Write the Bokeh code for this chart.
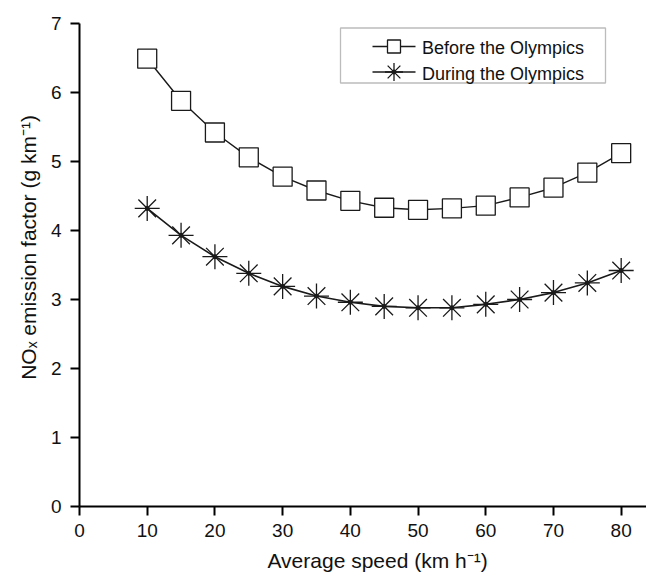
from bokeh.plotting import figure
from bokeh.models import Range1d, FixedTicker, Label, BoxAnnotation
from bokeh.embed import file_html
from bokeh.resources import INLINE

# ---------------- data ----------------
speed = [10, 15, 20, 25, 30, 35, 40, 45, 50, 55, 60, 65, 70, 75, 80]
before = [6.49, 5.88, 5.42, 5.06, 4.78, 4.58, 4.43, 4.33, 4.30, 4.32, 4.36, 4.48, 4.62, 4.84, 5.12]
during = [4.32, 3.93, 3.62, 3.38, 3.19, 3.05, 2.96, 2.90, 2.88, 2.88, 2.93, 3.00, 3.10, 3.24, 3.42]
series_names = ["Before the Olympics", "During the Olympics"]
x_ticks = [0, 10, 20, 30, 40, 50, 60, 70, 80]
y_ticks = [0, 1, 2, 3, 4, 5, 6, 7]
x_title = "Average speed (km h\u207b\u00b9)"
y_title = "NO\u2093 emission factor (g km\u207b\u00b9)"

FONT = "Liberation Sans"
NBSP = "\u00a0"

# ---------------- geometry ----------------
W_FIG, H_FIG = 646, 579
MB_L, MB_R, MB_T, MB_B = 79, 0, 23, 73
FRAME_W = W_FIG - MB_L - MB_R
FRAME_H = H_FIG - MB_T - MB_B
X_END = FRAME_W / 6.771
XS = FRAME_W / X_END
YS = FRAME_H / 7.0

def dx(px):
    return (px - MB_L) / XS

def dy(py):
    return (MB_T + FRAME_H - py) / YS

p = figure(width=W_FIG, height=H_FIG, x_range=Range1d(0, X_END), y_range=Range1d(0, 7),
           output_backend="svg", toolbar_location=None,
           min_border_left=MB_L, min_border_right=MB_R, min_border_top=MB_T, min_border_bottom=MB_B)
p.outline_line_color = None
p.grid.visible = False
p.background_fill_color = "white"
p.border_fill_color = "white"

p.xaxis.ticker = FixedTicker(ticks=x_ticks)
p.yaxis.ticker = FixedTicker(ticks=y_ticks)
for ax in (p.xaxis, p.yaxis):
    ax.axis_line_width = 2
    ax.axis_line_color = "black"
    ax.major_tick_line_width = 2
    ax.major_tick_line_color = "black"
    ax.major_tick_out = 9
    ax.major_tick_in = 0
    ax.minor_tick_line_color = None
    ax.major_label_text_font = FONT
    ax.major_label_text_font_size = "19px"
    ax.major_label_text_color = "#111111"
    ax.axis_label_text_font = FONT
    ax.axis_label_text_font_size = "21px"
    ax.axis_label_text_font_style = "normal"
    ax.axis_label_text_color = "#111111"
p.xaxis.major_label_standoff = 8
p.yaxis.major_label_standoff = 9
# leading no-break spaces shift the centred titles to where the reference has them
p.xaxis.axis_label = NBSP * 5 + x_title
p.yaxis.axis_label = NBSP * 6 + y_title
p.xaxis.axis_label_standoff = 9
p.yaxis.axis_label_standoff = 8

# ---------------- series ----------------
LC = "#1a1a1a"
p.line(speed, before, line_color=LC, line_width=1.4)
p.scatter(speed, before, marker="square", size=19, fill_color="white", line_color=LC, line_width=1.3)
p.line(speed, during, line_color=LC, line_width=1.6)
p.scatter(speed, during, marker="asterisk", size=25, line_color=LC, line_width=1.3)
p.scatter(speed, during, marker="circle", size=4, fill_color=LC, line_color=LC)

# ---------------- legend ----------------
box = BoxAnnotation(left=dx(340), right=dx(605), top=dy(27.5), bottom=dy(82.5),
                    fill_color=None, line_color="#222222", line_width=1.3)
p.add_layout(box)
rows = [46.0, 71.5]
for i, name in enumerate(series_names):
    ry = rows[i]
    p.line([dx(372), dx(415)], [dy(ry), dy(ry)], line_color=LC, line_width=1.4)
    if i == 0:
        p.scatter([dx(393.5)], [dy(ry)], marker="square", size=13, fill_color="white",
                  line_color=LC, line_width=1.3)
    else:
        p.scatter([dx(393.5)], [dy(ry)], marker="asterisk", size=18, line_color=LC, line_width=1.3)
        p.scatter([dx(393.5)], [dy(ry)], marker="circle", size=4, fill_color=LC, line_color=LC)
    lab = Label(x=dx(421.5), y=dy(ry + 1.5), text=name, text_font=FONT, text_font_size="18px",
                text_color="#111111", text_align="left", text_baseline="middle")
    p.add_layout(lab)

open("out.html", "w").write(file_html(p, INLINE))
